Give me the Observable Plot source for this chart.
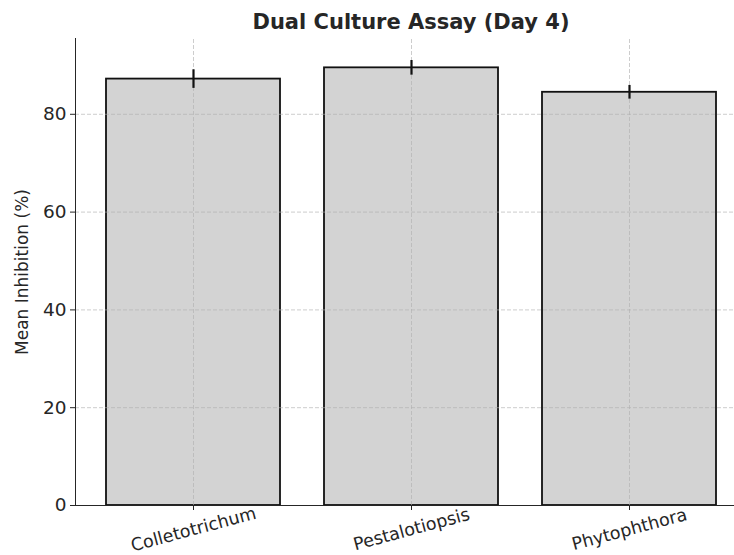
<!DOCTYPE html>
<html>
<head>
<meta charset="utf-8">
<script src="https://cdn.jsdelivr.net/npm/d3@7"></script>
<script src="https://cdn.jsdelivr.net/npm/@observablehq/plot@0.6"></script>
<style>
  html, body { margin: 0; padding: 0; background: #fff; overflow: hidden; }
  #chart svg { display: block; }
</style>
</head>
<body>
<div id="chart"></div>
<script>
// Mean inhibition of three pathogens in the dual culture assay (day 4)
const categories = ["Colletotrichum", "Pestalotiopsis", "Phytophthora"];
const means = [87.2, 89.5, 84.5];
const errors = [1.9, 1.5, 1.4];
const yTicks = [0, 20, 40, 60, 80];
const title = "Dual Culture Assay (Day 4)";
const yLabel = "Mean Inhibition (%)";

const data = categories.map((c, i) => ({ pathogen: c, mean: means[i], err: errors[i] }));

const gridStyle = { stroke: "#b0b0b0", strokeOpacity: 0.7, strokeWidth: 0.9, strokeDasharray: "4,2" };
const ink = "#262626";

const chart = Plot.plot({
  width: 734,
  height: 555,
  marginTop: 38,
  marginBottom: 50,
  marginLeft: 75,
  marginRight: 0,
  style: { fontFamily: "DejaVu Sans", background: "white", color: ink, overflow: "visible" },
  x: { type: "band", domain: categories, range: [75, 747], paddingInner: 0.2, paddingOuter: 0.1375, align: 0.5, axis: null },
  y: { domain: [0, 95.5], range: [505, 38], axis: null },
  marks: [
    Plot.barY(data, { x: "pathogen", y: "mean", fill: "#d3d3d3", stroke: "#111", strokeWidth: 1.8 }),
    // grid lines sit above the bars, below the error bars
    Plot.ruleX(categories, { x: d => d, y1: 0, y2: 95.5, ...gridStyle }),
    Plot.ruleY(yTicks, { y: d => d, ...gridStyle }),
    Plot.ruleX(data, { x: "pathogen", y1: d => d.mean - d.err, y2: d => d.mean + d.err, stroke: "#111", strokeWidth: 2.2 }),
    // spines
    Plot.frame({ anchor: "left", stroke: ink, strokeWidth: 1 }),
    Plot.ruleY([0], { stroke: ink, strokeWidth: 1 }),
    // y axis
    Plot.axisY({ ticks: yTicks, tickSize: 5, tickPadding: 4, fontSize: 18.5, label: null, stroke: ink, fill: ink }),
    // x axis ticks and rotated labels
    Plot.axisX({ tickSize: 5, tickFormat: () => "", label: null, stroke: ink }),
    Plot.text(categories, { x: d => d, frameAnchor: "bottom", dy: 24, rotate: -15, fontSize: 17.5, fill: ink, lineAnchor: "middle", textAnchor: "middle" }),
    // axis label and title
    Plot.text([yLabel], { frameAnchor: "left", dx: -53, rotate: -90, fontSize: 17, fill: ink, lineAnchor: "middle", textAnchor: "middle" }),
    Plot.text([title], { frameAnchor: "top", dx: 6, dy: -16, fontSize: 21, fontWeight: "bold", fill: ink, lineAnchor: "middle", textAnchor: "middle" })
  ]
});

document.getElementById("chart").appendChild(chart);
</script>
</body>
</html>
